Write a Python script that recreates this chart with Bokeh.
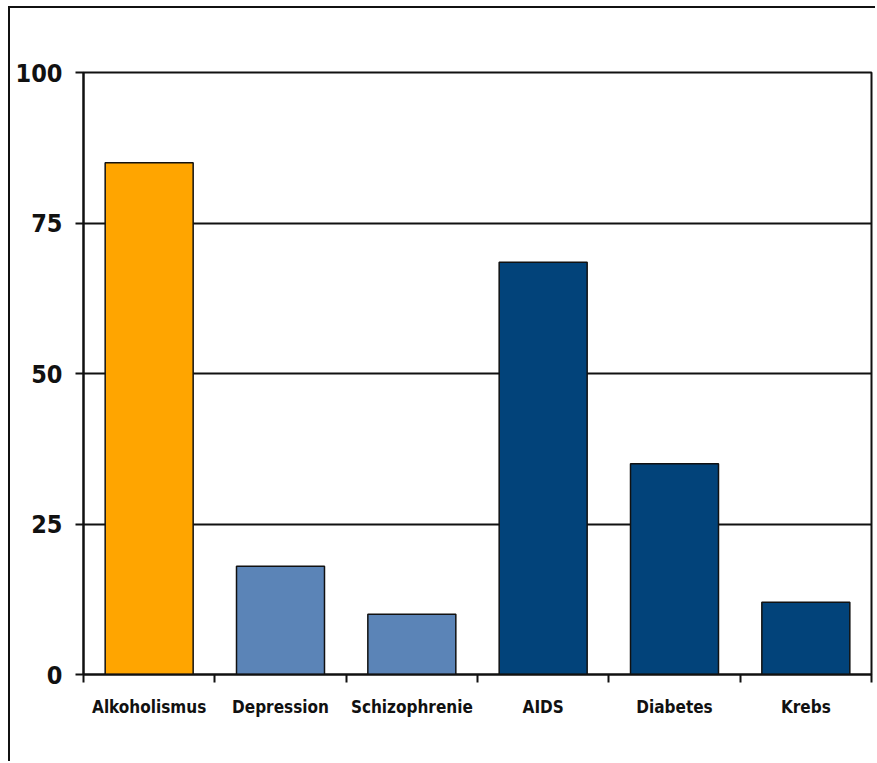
from bokeh.plotting import figure
from bokeh.models import Range1d, FixedTicker, ColumnDataSource
from bokeh.embed import file_html
from bokeh.resources import INLINE

# Chart data
categories = ["Alkoholismus", "Depression", "Schizophrenie", "AIDS", "Diabetes", "Krebs"]
values = [85, 18, 10, 68.5, 35, 12]
bar_colors = ["#FFA500", "#5B84B7", "#5B84B7", "#02437A", "#02437A", "#02437A"]
y_ticks = [0, 25, 50, 75, 100]

FONT = "'DejaVu Sans Condensed', 'Liberation Sans', sans-serif"

src = ColumnDataSource(dict(
    x=[i + 0.5 for i in range(len(categories))],
    top=values,
    color=bar_colors,
))

# page frame: left/top border drawn by CSS around the figure
p = figure(
    width=867, height=755,
    x_range=Range1d(0, len(categories)),
    y_range=Range1d(0, 100),
    output_backend="svg", toolbar_location=None,
    min_border_left=73, min_border_right=6,
    min_border_top=64, min_border_bottom=89,
    styles={"border-left": "2px solid #111111", "border-top": "2px solid #111111",
            "margin-left": "8px", "margin-top": "6px"},
)
p.background_fill_color = "white"
p.border_fill_color = "white"
p.outline_line_color = "#111111"
p.outline_line_width = 2

p.vbar(x="x", top="top", bottom=0, width=0.67, source=src,
       fill_color="color", line_color="#111111", line_width=1.5)

# y axis
p.yaxis.ticker = FixedTicker(ticks=y_ticks)
p.yaxis.minor_tick_line_color = None
p.yaxis.major_tick_out = 8
p.yaxis.major_tick_in = 0
p.yaxis.major_tick_line_width = 2
p.yaxis.axis_line_width = 2
p.yaxis.axis_line_color = "#111111"
p.yaxis.major_tick_line_color = "#111111"
p.yaxis.major_label_standoff = 13
p.yaxis.major_label_text_font = FONT
p.yaxis.major_label_text_font_style = "bold"
p.yaxis.major_label_text_font_size = "25px"
p.yaxis.major_label_text_color = "#111111"

# x axis: labels at bar centres, tick marks at category boundaries
p.xaxis.ticker = FixedTicker(
    ticks=[i + 0.5 for i in range(len(categories))],
    minor_ticks=list(range(len(categories) + 1)),
)
p.xaxis.major_label_overrides = {i + 0.5: c for i, c in enumerate(categories)}
p.xaxis.major_tick_out = 0
p.xaxis.major_tick_in = 0
p.xaxis.minor_tick_out = 8
p.xaxis.minor_tick_in = 0
p.xaxis.minor_tick_line_width = 2
p.xaxis.minor_tick_line_color = "#111111"
p.xaxis.axis_line_width = 2
p.xaxis.axis_line_color = "#111111"
p.xaxis.major_label_standoff = 14
p.xaxis.major_label_text_font = FONT
p.xaxis.major_label_text_font_style = "bold"
p.xaxis.major_label_text_font_size = "17px"
p.xaxis.major_label_text_color = "#111111"

# grid
p.xgrid.grid_line_color = None
p.ygrid.ticker = FixedTicker(ticks=y_ticks)
p.ygrid.grid_line_color = "#111111"
p.ygrid.grid_line_width = 2

open("out.html", "w").write(file_html(p, INLINE))
